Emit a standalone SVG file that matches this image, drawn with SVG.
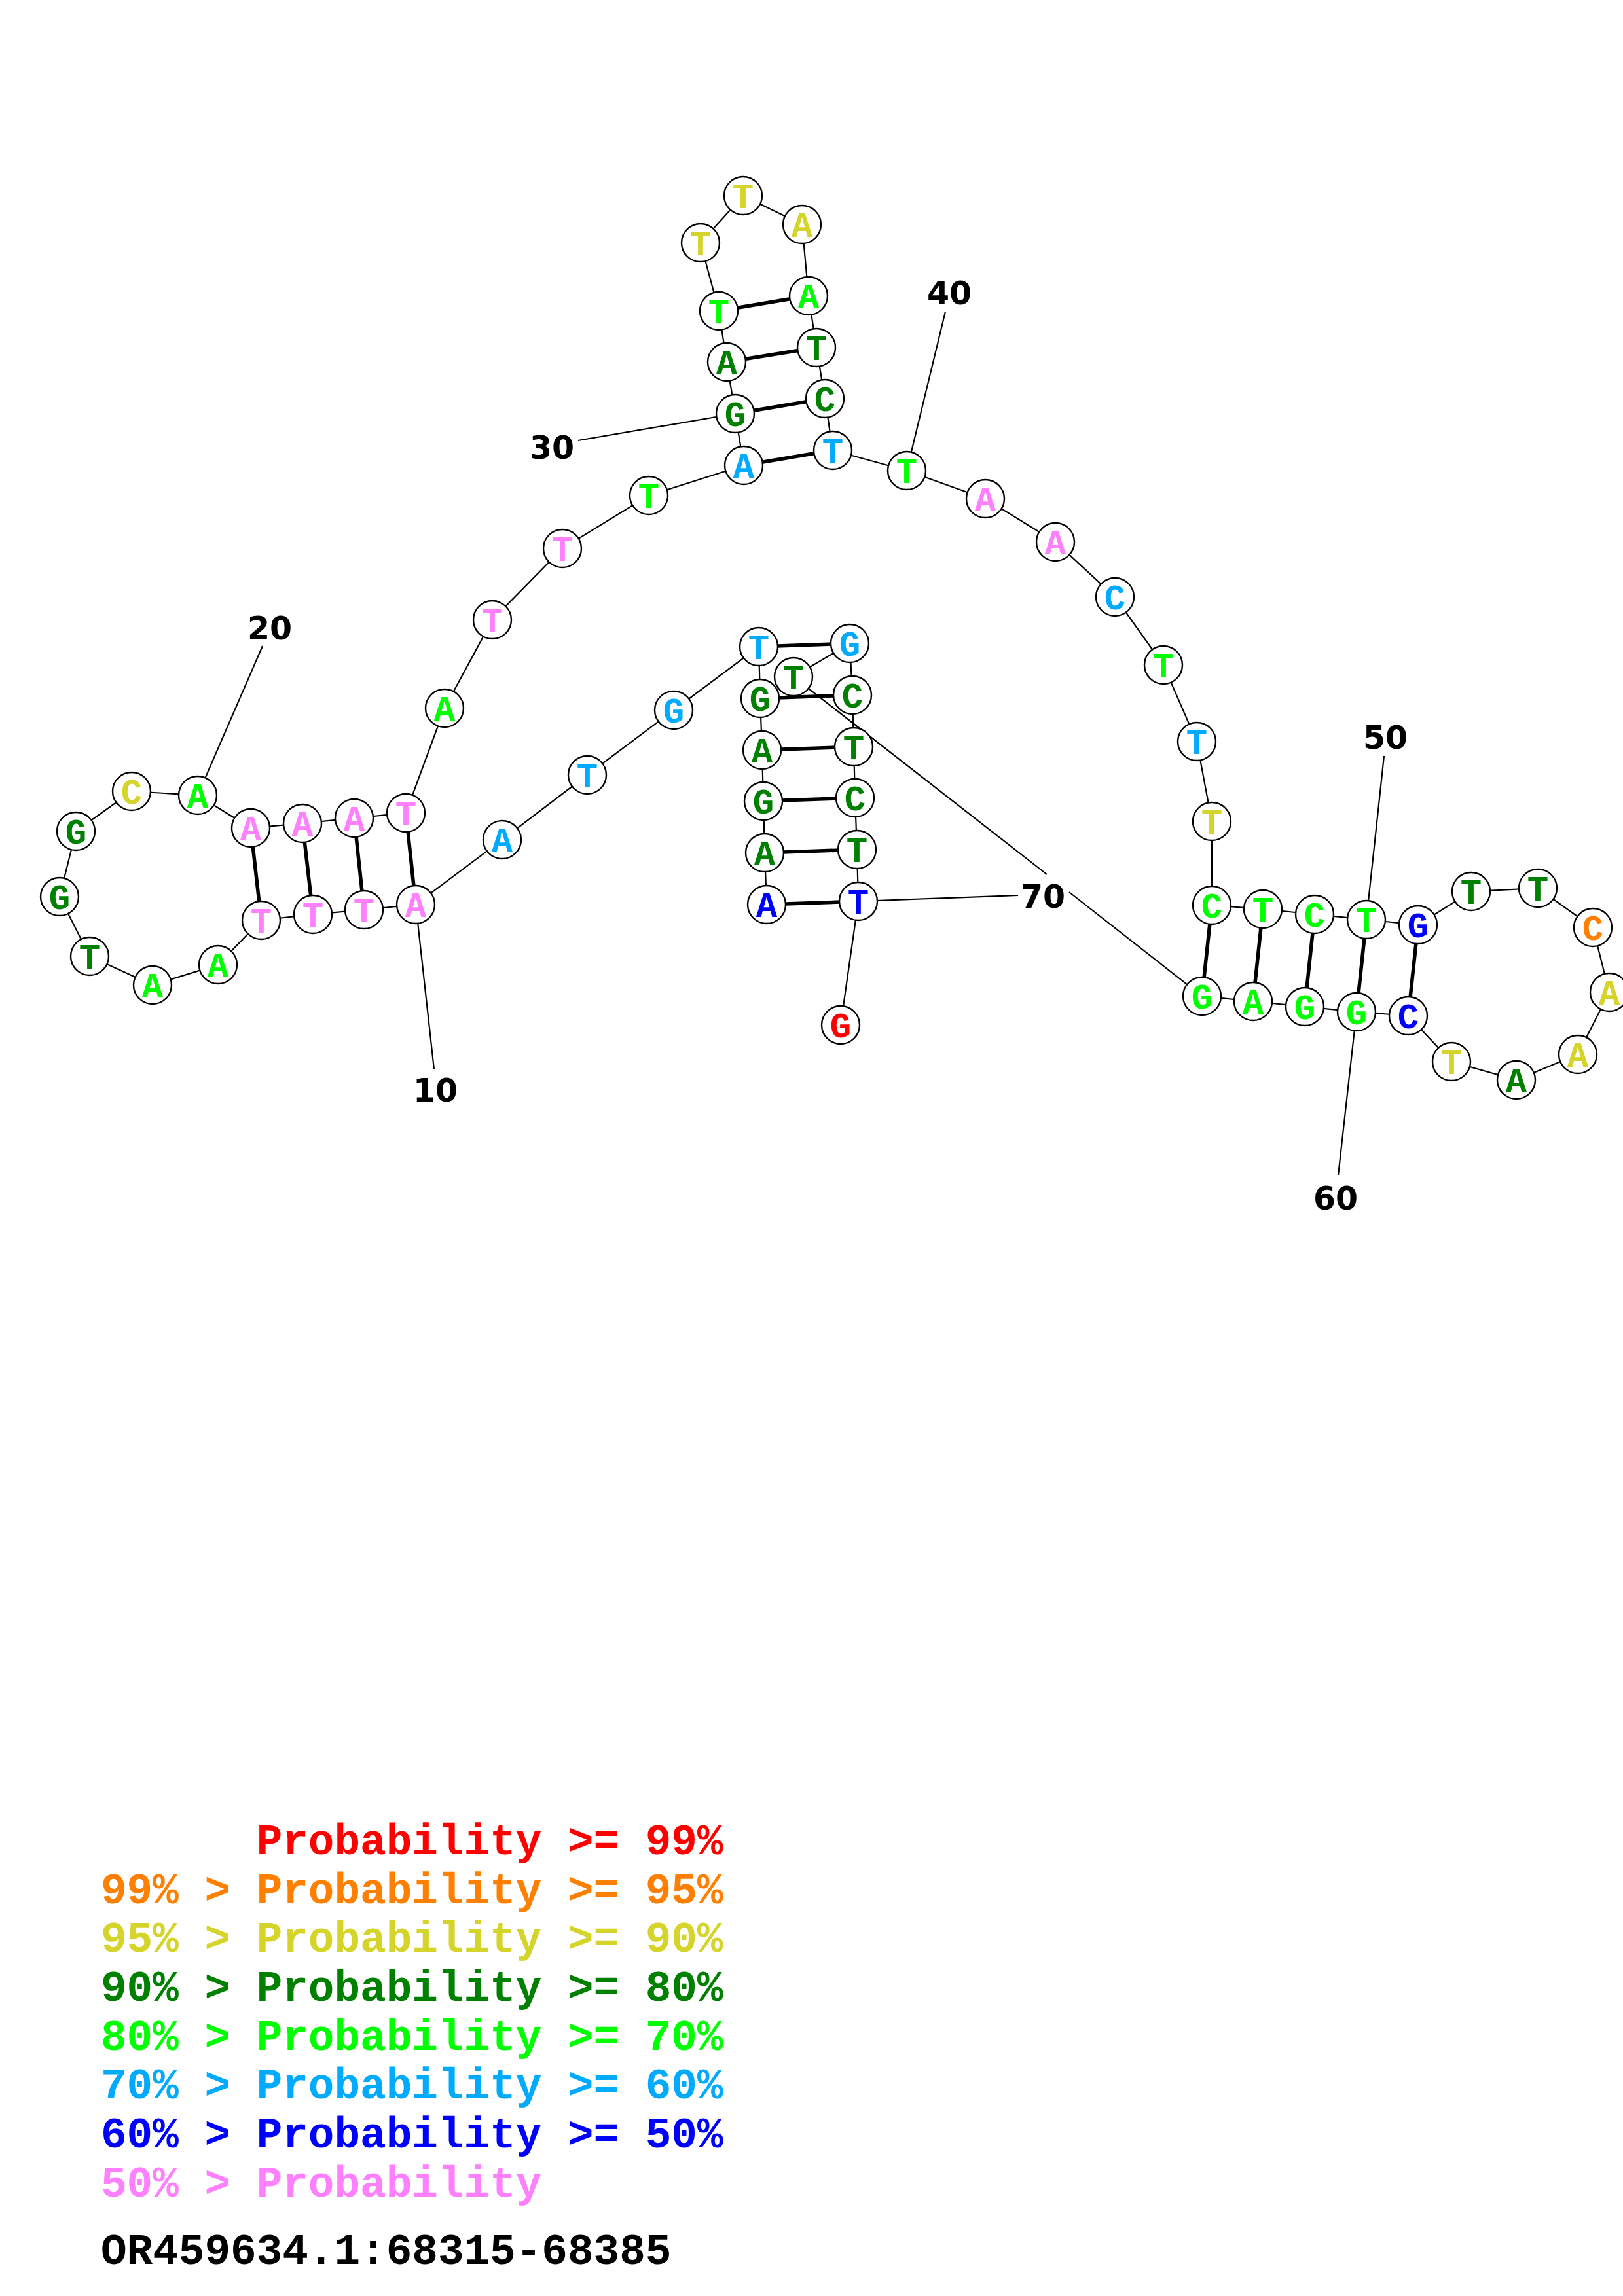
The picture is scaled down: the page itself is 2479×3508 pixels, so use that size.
<svg xmlns="http://www.w3.org/2000/svg" width="2479" height="3508" viewBox="0 0 2479 3508">
<style>
.bb{stroke:#000;stroke-width:2.2;fill:none}
.pr{stroke:#000;stroke-width:5.5;fill:none}
circle{fill:#fff;stroke:#000;stroke-width:2.4}
.nt{font-family:"Liberation Mono","Courier New",monospace;font-weight:bold;font-size:54px;text-anchor:middle}
.lb{font-family:"DejaVu Sans","Liberation Sans",sans-serif;font-weight:bold;font-size:49px;text-anchor:middle;fill:#000}
.lg{font-family:"Liberation Mono","Courier New",monospace;font-weight:bold;font-size:66px}
.r{fill:#FF0000}.o{fill:#FF8000}.y{fill:#D4D42A}.dg{fill:#008000}.g{fill:#00FF00}.s{fill:#00AAFF}.b{fill:#0000FF}.p{fill:#FF80FF}.k{fill:#000}
</style>
<rect width="2479" height="3508" fill="#fff"/>
<g id="connectors">
<polyline class="bb" points="1171,1382 1168,1303 1166,1224 1164,1146 1161,1067 1159,988 1029,1085 897,1184 767,1283 635,1382 556,1390 478,1397 399,1406 333,1474 233,1505 137,1461 91,1370 116,1270 201,1209 302,1215 383,1265 462,1258 541,1250 620,1242 679,1082 752,947 859,838 991,757 1136,711 1123,632 1110,553 1098,475 1070,371 1135,299 1225,343 1235,452 1247,531 1260,609 1272,688 1385,719 1505,762 1612,828 1703,912 1777,1016 1828,1133 1851,1255 1851,1383 1929,1389 2008,1397 2087,1405 2166,1413 2247,1362 2349,1357 2433,1417 2458,1516 2410,1611 2316,1650 2217,1622 2151,1552 2072,1546 1993,1538 1914,1530 1836,1522 1633,1363"/>
<polyline class="bb" points="1599,1336 1212,1034 1298,983 1302,1062 1304,1141 1306,1219 1309,1298 1311,1377 1284,1566"/>
<line class="pr" x1="1171" y1="1382" x2="1311" y2="1377"/>
<line class="pr" x1="1168" y1="1303" x2="1309" y2="1298"/>
<line class="pr" x1="1166" y1="1224" x2="1306" y2="1219"/>
<line class="pr" x1="1164" y1="1146" x2="1304" y2="1141"/>
<line class="pr" x1="1161" y1="1067" x2="1302" y2="1062"/>
<line class="pr" x1="1159" y1="988" x2="1298" y2="983"/>
<line class="pr" x1="635" y1="1382" x2="620" y2="1242"/>
<line class="pr" x1="556" y1="1390" x2="541" y2="1250"/>
<line class="pr" x1="478" y1="1397" x2="462" y2="1258"/>
<line class="pr" x1="399" y1="1406" x2="383" y2="1265"/>
<line class="pr" x1="1136" y1="711" x2="1272" y2="688"/>
<line class="pr" x1="1123" y1="632" x2="1260" y2="609"/>
<line class="pr" x1="1110" y1="553" x2="1247" y2="531"/>
<line class="pr" x1="1098" y1="475" x2="1235" y2="452"/>
<line class="pr" x1="1851" y1="1383" x2="1836" y2="1522"/>
<line class="pr" x1="1929" y1="1389" x2="1914" y2="1530"/>
<line class="pr" x1="2008" y1="1397" x2="1993" y2="1538"/>
<line class="pr" x1="2087" y1="1405" x2="2072" y2="1546"/>
<line class="pr" x1="2166" y1="1413" x2="2151" y2="1552"/>
<line class="bb" x1="635" y1="1382" x2="663" y2="1634"/>
<line class="bb" x1="302" y1="1215" x2="401" y2="987"/>
<line class="bb" x1="1123" y1="632" x2="883" y2="673"/>
<line class="bb" x1="1385" y1="719" x2="1444" y2="476"/>
<line class="bb" x1="2087" y1="1405" x2="2114" y2="1155"/>
<line class="bb" x1="2072" y1="1546" x2="2044" y2="1796"/>
<line class="bb" x1="1311" y1="1377" x2="1555" y2="1368"/>
</g>
<g id="labels">
<text class="lb" x="665" y="1683">10</text>
<text class="lb" x="412" y="977">20</text>
<text class="lb" x="843" y="701">30</text>
<text class="lb" x="1450" y="465">40</text>
<text class="lb" x="2116" y="1144">50</text>
<text class="lb" x="2040" y="1848">60</text>
<text class="lb" x="1593" y="1387">70</text>
</g>
<g id="n1"><circle cx="1171" cy="1382" r="29"/><text class="nt b" x="1171" y="1401">A</text></g>
<g id="n2"><circle cx="1168" cy="1303" r="29"/><text class="nt dg" x="1168" y="1322">A</text></g>
<g id="n3"><circle cx="1166" cy="1224" r="29"/><text class="nt dg" x="1166" y="1243">G</text></g>
<g id="n4"><circle cx="1164" cy="1146" r="29"/><text class="nt dg" x="1164" y="1165">A</text></g>
<g id="n5"><circle cx="1161" cy="1067" r="29"/><text class="nt dg" x="1161" y="1086">G</text></g>
<g id="n6"><circle cx="1159" cy="988" r="29"/><text class="nt s" x="1159" y="1007">T</text></g>
<g id="n7"><circle cx="1029" cy="1085" r="29"/><text class="nt s" x="1029" y="1104">G</text></g>
<g id="n8"><circle cx="897" cy="1184" r="29"/><text class="nt s" x="897" y="1203">T</text></g>
<g id="n9"><circle cx="767" cy="1283" r="29"/><text class="nt s" x="767" y="1302">A</text></g>
<g id="n10"><circle cx="635" cy="1382" r="29"/><text class="nt p" x="635" y="1401">A</text></g>
<g id="n11"><circle cx="556" cy="1390" r="29"/><text class="nt p" x="556" y="1409">T</text></g>
<g id="n12"><circle cx="478" cy="1397" r="29"/><text class="nt p" x="478" y="1416">T</text></g>
<g id="n13"><circle cx="399" cy="1406" r="29"/><text class="nt p" x="399" y="1425">T</text></g>
<g id="n14"><circle cx="333" cy="1474" r="29"/><text class="nt g" x="333" y="1493">A</text></g>
<g id="n15"><circle cx="233" cy="1505" r="29"/><text class="nt g" x="233" y="1524">A</text></g>
<g id="n16"><circle cx="137" cy="1461" r="29"/><text class="nt dg" x="137" y="1480">T</text></g>
<g id="n17"><circle cx="91" cy="1370" r="29"/><text class="nt dg" x="91" y="1389">G</text></g>
<g id="n18"><circle cx="116" cy="1270" r="29"/><text class="nt dg" x="116" y="1289">G</text></g>
<g id="n19"><circle cx="201" cy="1209" r="29"/><text class="nt y" x="201" y="1228">C</text></g>
<g id="n20"><circle cx="302" cy="1215" r="29"/><text class="nt g" x="302" y="1234">A</text></g>
<g id="n21"><circle cx="383" cy="1265" r="29"/><text class="nt p" x="383" y="1284">A</text></g>
<g id="n22"><circle cx="462" cy="1258" r="29"/><text class="nt p" x="462" y="1277">A</text></g>
<g id="n23"><circle cx="541" cy="1250" r="29"/><text class="nt p" x="541" y="1269">A</text></g>
<g id="n24"><circle cx="620" cy="1242" r="29"/><text class="nt p" x="620" y="1261">T</text></g>
<g id="n25"><circle cx="679" cy="1082" r="29"/><text class="nt g" x="679" y="1101">A</text></g>
<g id="n26"><circle cx="752" cy="947" r="29"/><text class="nt p" x="752" y="966">T</text></g>
<g id="n27"><circle cx="859" cy="838" r="29"/><text class="nt p" x="859" y="857">T</text></g>
<g id="n28"><circle cx="991" cy="757" r="29"/><text class="nt g" x="991" y="776">T</text></g>
<g id="n29"><circle cx="1136" cy="711" r="29"/><text class="nt s" x="1136" y="730">A</text></g>
<g id="n30"><circle cx="1123" cy="632" r="29"/><text class="nt dg" x="1123" y="651">G</text></g>
<g id="n31"><circle cx="1110" cy="553" r="29"/><text class="nt dg" x="1110" y="572">A</text></g>
<g id="n32"><circle cx="1098" cy="475" r="29"/><text class="nt g" x="1098" y="494">T</text></g>
<g id="n33"><circle cx="1070" cy="371" r="29"/><text class="nt y" x="1070" y="390">T</text></g>
<g id="n34"><circle cx="1135" cy="299" r="29"/><text class="nt y" x="1135" y="318">T</text></g>
<g id="n35"><circle cx="1225" cy="343" r="29"/><text class="nt y" x="1225" y="362">A</text></g>
<g id="n36"><circle cx="1235" cy="452" r="29"/><text class="nt g" x="1235" y="471">A</text></g>
<g id="n37"><circle cx="1247" cy="531" r="29"/><text class="nt dg" x="1247" y="550">T</text></g>
<g id="n38"><circle cx="1260" cy="609" r="29"/><text class="nt dg" x="1260" y="628">C</text></g>
<g id="n39"><circle cx="1272" cy="688" r="29"/><text class="nt s" x="1272" y="707">T</text></g>
<g id="n40"><circle cx="1385" cy="719" r="29"/><text class="nt g" x="1385" y="738">T</text></g>
<g id="n41"><circle cx="1505" cy="762" r="29"/><text class="nt p" x="1505" y="781">A</text></g>
<g id="n42"><circle cx="1612" cy="828" r="29"/><text class="nt p" x="1612" y="847">A</text></g>
<g id="n43"><circle cx="1703" cy="912" r="29"/><text class="nt s" x="1703" y="931">C</text></g>
<g id="n44"><circle cx="1777" cy="1016" r="29"/><text class="nt g" x="1777" y="1035">T</text></g>
<g id="n45"><circle cx="1828" cy="1133" r="29"/><text class="nt s" x="1828" y="1152">T</text></g>
<g id="n46"><circle cx="1851" cy="1255" r="29"/><text class="nt y" x="1851" y="1274">T</text></g>
<g id="n47"><circle cx="1851" cy="1383" r="29"/><text class="nt g" x="1851" y="1402">C</text></g>
<g id="n48"><circle cx="1929" cy="1389" r="29"/><text class="nt g" x="1929" y="1408">T</text></g>
<g id="n49"><circle cx="2008" cy="1397" r="29"/><text class="nt g" x="2008" y="1416">C</text></g>
<g id="n50"><circle cx="2087" cy="1405" r="29"/><text class="nt g" x="2087" y="1424">T</text></g>
<g id="n51"><circle cx="2166" cy="1413" r="29"/><text class="nt b" x="2166" y="1432">G</text></g>
<g id="n52"><circle cx="2247" cy="1362" r="29"/><text class="nt dg" x="2247" y="1381">T</text></g>
<g id="n53"><circle cx="2349" cy="1357" r="29"/><text class="nt dg" x="2349" y="1376">T</text></g>
<g id="n54"><circle cx="2433" cy="1417" r="29"/><text class="nt o" x="2433" y="1436">C</text></g>
<g id="n55"><circle cx="2458" cy="1516" r="29"/><text class="nt y" x="2458" y="1535">A</text></g>
<g id="n56"><circle cx="2410" cy="1611" r="29"/><text class="nt y" x="2410" y="1630">A</text></g>
<g id="n57"><circle cx="2316" cy="1650" r="29"/><text class="nt dg" x="2316" y="1669">A</text></g>
<g id="n58"><circle cx="2217" cy="1622" r="29"/><text class="nt y" x="2217" y="1641">T</text></g>
<g id="n59"><circle cx="2151" cy="1552" r="29"/><text class="nt b" x="2151" y="1571">C</text></g>
<g id="n60"><circle cx="2072" cy="1546" r="29"/><text class="nt g" x="2072" y="1565">G</text></g>
<g id="n61"><circle cx="1993" cy="1538" r="29"/><text class="nt g" x="1993" y="1557">G</text></g>
<g id="n62"><circle cx="1914" cy="1530" r="29"/><text class="nt g" x="1914" y="1549">A</text></g>
<g id="n63"><circle cx="1836" cy="1522" r="29"/><text class="nt g" x="1836" y="1541">G</text></g>
<g id="n64"><circle cx="1212" cy="1034" r="29"/><text class="nt dg" x="1212" y="1053">T</text></g>
<g id="n65"><circle cx="1298" cy="983" r="29"/><text class="nt s" x="1298" y="1002">G</text></g>
<g id="n66"><circle cx="1302" cy="1062" r="29"/><text class="nt dg" x="1302" y="1081">C</text></g>
<g id="n67"><circle cx="1304" cy="1141" r="29"/><text class="nt dg" x="1304" y="1160">T</text></g>
<g id="n68"><circle cx="1306" cy="1219" r="29"/><text class="nt dg" x="1306" y="1238">C</text></g>
<g id="n69"><circle cx="1309" cy="1298" r="29"/><text class="nt dg" x="1309" y="1317">T</text></g>
<g id="n70"><circle cx="1311" cy="1377" r="29"/><text class="nt b" x="1311" y="1396">T</text></g>
<g id="n71"><circle cx="1284" cy="1566" r="29"/><text class="nt r" x="1284" y="1585">G</text></g>
<g id="legend">
<text class="lg r" x="154" y="2833" xml:space="preserve">      Probability &gt;= 99%</text>
<text class="lg o" x="154" y="2908">99% &gt; Probability &gt;= 95%</text>
<text class="lg y" x="154" y="2982">95% &gt; Probability &gt;= 90%</text>
<text class="lg dg" x="154" y="3057">90% &gt; Probability &gt;= 80%</text>
<text class="lg g" x="154" y="3132">80% &gt; Probability &gt;= 70%</text>
<text class="lg s" x="154" y="3206">70% &gt; Probability &gt;= 60%</text>
<text class="lg b" x="154" y="3281">60% &gt; Probability &gt;= 50%</text>
<text class="lg p" x="154" y="3356">50% &gt; Probability</text>
<text class="lg k" x="154" y="3459">OR459634.1:68315-68385</text>
</g>
</svg>
